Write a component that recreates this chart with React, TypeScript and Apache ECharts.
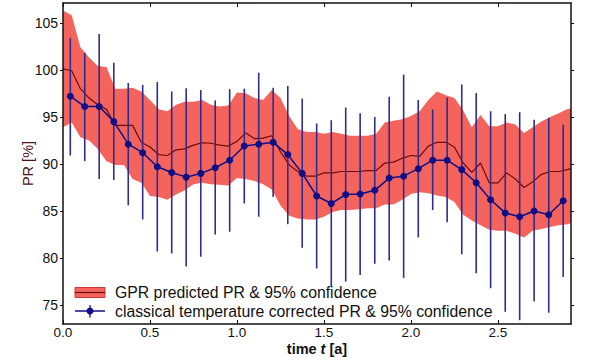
import React, { useEffect, useRef } from "react";
import * as echarts from "echarts";

// ---- data ----
// classical temperature corrected PR (monthly points)
const prTime = [
  0.042, 0.125, 0.208, 0.292, 0.375, 0.458, 0.542, 0.625, 0.708, 0.792, 0.875, 0.958,
  1.042, 1.125, 1.208, 1.292, 1.375, 1.458, 1.542, 1.625, 1.708, 1.792, 1.875, 1.958,
  2.042, 2.125, 2.208, 2.292, 2.375, 2.458, 2.542, 2.625, 2.708, 2.792, 2.875,
];
const prValue = [
  97.2, 96.1, 96.1, 94.5, 92.1, 91.2, 89.7, 89.1, 88.6, 89.0, 89.6, 90.4,
  91.9, 92.1, 92.3, 91.0, 89.0, 86.6, 85.8, 86.75, 86.8, 87.2, 88.5, 88.7,
  89.5, 90.4, 90.4, 89.4, 88.0, 86.2, 84.8, 84.4, 85.0, 84.6, 86.1,
];
const prHigh = [
  103.4, 101.8, 103.8, 100.75, 98.6, 98.4, 98.7, 97.7, 98.05, 97.85, 96.75, 97.95,
  98.0, 99.7, 98.1, 98.3, 96.95, 94.3, 94.65, 96.0, 95.4, 95.0, 97.15, 99.5,
  96.8, 95.8, 97.05, 98.45, 97.55, 95.6, 95.3, 95.5, 94.7, 94.9, 94.2,
];
const prLow = [
  90.9, 90.3, 88.4, 88.3, 85.6, 84.1, 80.7, 80.5, 79.1, 80.15, 82.5, 82.8,
  85.8, 84.4, 86.5, 83.6, 81.1, 78.9, 77.0, 77.5, 78.2, 79.4, 79.75, 77.9,
  82.2, 85.1, 83.8, 80.4, 78.4, 76.8, 74.3, 73.4, 75.4, 74.2, 78.0,
];

// GPR prediction: mean and 95% band
const gprTime = [
  0.0, 0.05, 0.1, 0.15, 0.2, 0.25, 0.3, 0.35, 0.4, 0.45, 0.5, 0.55, 0.6, 0.65, 0.7, 0.75,
  0.8, 0.85, 0.9, 0.95, 1.0, 1.05, 1.1, 1.15, 1.2, 1.25, 1.3, 1.35, 1.4, 1.45, 1.5, 1.55,
  1.6, 1.65, 1.7, 1.75, 1.8, 1.85, 1.9, 1.95, 2.0, 2.05, 2.1, 2.15, 2.2, 2.25, 2.3, 2.35,
  2.4, 2.45, 2.5, 2.55, 2.6, 2.65, 2.7, 2.75, 2.8, 2.85, 2.9, 2.92,
];
const gprUpper = [
  106.3, 105.8, 102.4, 101.3, 100.4, 100.3, 98.0, 98.0, 98.1, 97.7, 96.8, 95.8, 95.6, 96.3, 96.6, 96.6,
  96.8, 96.3, 96.1, 96.2, 97.6, 97.5, 97.0, 96.8, 97.85, 97.0, 95.1, 93.7, 93.4, 93.4, 93.2, 93.4,
  93.2, 93.0, 93.0, 93.0, 93.2, 94.4, 94.6, 94.75, 95.1, 95.6, 96.8, 97.7, 97.3, 97.0, 95.7, 93.9,
  95.2, 94.0, 94.0, 94.4, 94.2, 93.3, 93.9, 94.5, 95.0, 95.4, 95.85, 95.9,
];
const gprLower = [
  93.9, 94.4, 92.85, 92.5, 91.6, 90.3, 89.9, 89.9, 88.4, 88.0, 86.6, 86.5, 86.2, 86.75, 87.2, 87.85,
  88.0, 87.85, 87.8, 87.7, 88.5, 88.4, 88.2, 87.85, 87.3, 85.6, 84.5, 84.2, 84.1, 84.1, 84.4, 84.9,
  85.1, 85.1, 85.2, 85.3, 85.3, 85.7, 85.7, 86.2, 86.8, 87.0, 86.9, 86.65, 86.5, 85.95, 84.6, 84.0,
  83.5, 83.0, 82.9, 82.9, 82.6, 82.2, 82.9, 83.1, 83.3, 83.5, 83.6, 83.7,
];
const gprMean = [
  100.1, 99.9, 98.0, 97.0, 96.3, 95.8, 94.1, 94.1, 94.1, 92.3, 91.8, 91.0, 90.9, 91.5, 91.6, 92.0,
  92.25, 92.2, 92.0, 91.9, 92.4, 93.3, 92.7, 92.75, 93.0, 91.3, 89.9, 89.2, 88.7, 88.7, 89.05, 89.05,
  89.2, 89.2, 89.2, 89.3, 89.3, 90.1, 90.2, 90.6, 90.9, 90.8, 91.9, 92.3, 92.3, 91.8, 90.1, 89.1,
  90.1, 88.0, 88.0, 89.05, 88.4, 87.5, 88.1, 88.9, 89.2, 89.2, 89.4, 89.5,
];

const xTicks = [0, 0.5, 1.0, 1.5, 2.0, 2.5];
const yTicks = [75, 80, 85, 90, 95, 100, 105];

const legendBand = "GPR predicted PR & 95% confidence";
const legendPR = "classical temperature corrected PR & 95% confidence";

const FONT = "'Liberation Sans', Arial, Helvetica, sans-serif";
const BAND = "#f5635d";
const MEAN = "#6e0b0b";
const NAVY = "#0f0f88";
const BAR = "#2d2d90";

export default function App() {
  const ref = useRef<HTMLDivElement>(null);

  useEffect(() => {
    if (!ref.current) return;
    const chart = echarts.init(ref.current, undefined, { renderer: "svg" });

    const bandData = gprTime.map((t, i) => [t, gprLower[i], gprUpper[i]]);
    const meanData = gprTime.map((t, i) => [t, gprMean[i]]);
    const prData = prTime.map((t, i) => [t, prValue[i]]);
    const barData = prTime.map((t, i) => [t, prLow[i], prHigh[i]]);

    const axisLine = { show: true, onZero: false, lineStyle: { color: "#111", width: 1.5 } };

    const option: any = {
      animation: false,
      backgroundColor: "#fff",
      grid: { left: 63, right: 29, top: 3, bottom: 31, containLabel: false },
      xAxis: [
        {
          type: "value",
          position: "bottom",
          min: 0,
          max: 2.92,
          z: 10,
          axisLine,
          splitLine: { show: false },
          axisTick: { show: true, inside: true, length: 4, customValues: xTicks, lineStyle: { color: "#111" } },
          axisLabel: {
            customValues: xTicks,
            formatter: (v: number) => v.toFixed(1),
            fontSize: 13.5,
            lineHeight: 10,
            fontFamily: FONT,
            color: "#111",
            margin: 3,
          },
          name: "{a|time }{b|t}{a| [a]}",
          nameLocation: "middle",
          nameGap: 18,
          nameMoveOverlap: false,
          nameTextStyle: {
            rich: {
              a: { fontSize: 14.5, lineHeight: 13, fontFamily: FONT, fontWeight: "bold", color: "#111" },
              b: { fontSize: 14.5, lineHeight: 13, fontFamily: FONT, fontWeight: "bold", fontStyle: "italic", color: "#111" },
            },
          },
        },
        {
          type: "value",
          position: "top",
          min: 0,
          max: 2.92,
          z: 10,
          axisLine,
          splitLine: { show: false },
          axisTick: { show: true, inside: true, length: 4, customValues: xTicks, lineStyle: { color: "#111" } },
          axisLabel: { show: false },
        },
      ],
      yAxis: [
        {
          type: "value",
          position: "left",
          min: 73,
          max: 107.1,
          z: 10,
          axisLine,
          splitLine: { show: false },
          axisTick: { show: true, inside: false, length: 3, customValues: yTicks, lineStyle: { color: "#111" } },
          axisLabel: {
            customValues: yTicks,
            fontSize: 14,
            fontFamily: FONT,
            color: "#111",
            margin: 5,
          },
          name: "PR [%]",
          nameLocation: "middle",
          nameGap: 28,
          nameMoveOverlap: false,
          nameRotate: 90,
          nameTextStyle: { fontSize: 14.5, fontFamily: FONT, color: "#4a1414" },
        },
        {
          type: "value",
          position: "right",
          min: 73,
          max: 107.1,
          z: 10,
          axisLine,
          splitLine: { show: false },
          axisTick: { show: true, inside: false, length: 3, customValues: yTicks, lineStyle: { color: "#111" } },
          axisLabel: { show: false },
        },
      ],
      series: [
        {
          type: "custom",
          name: legendBand,
          data: bandData,
          encode: { x: 0, y: [1, 2] },
          z: 1,
          renderItem: (params: any, api: any) => {
            if (params.dataIndex !== 0) return null;
            const upper = bandData.map((d) => api.coord([d[0], d[2]]));
            const lower = bandData.map((d) => api.coord([d[0], d[1]])).reverse();
            return {
              type: "polygon",
              shape: { points: upper.concat(lower) },
              style: { fill: BAND, stroke: "none" },
            };
          },
        },
        {
          type: "line",
          name: "GPR mean",
          data: meanData,
          showSymbol: false,
          z: 3,
          lineStyle: { color: MEAN, width: 1.2 },
          itemStyle: { color: MEAN },
        },
        {
          type: "custom",
          name: "error bars",
          data: barData,
          encode: { x: 0, y: [1, 2] },
          z: 4,
          renderItem: (params: any, api: any) => {
            const t = api.value(0);
            const p1 = api.coord([t, api.value(1)]);
            const p2 = api.coord([t, api.value(2)]);
            return {
              type: "line",
              shape: { x1: p1[0], y1: p1[1], x2: p2[0], y2: p2[1] },
              style: { stroke: BAR, lineWidth: 1.6 },
            };
          },
        },
        {
          type: "line",
          name: legendPR,
          data: prData,
          symbol: "circle",
          symbolSize: 7,
          z: 5,
          lineStyle: { color: NAVY, width: 1.5 },
          itemStyle: { color: NAVY },
        },
      ],
      graphic: [
        {
          type: "rect",
          shape: { x: 75, y: 287.5, width: 30, height: 10 },
          style: { fill: BAND, stroke: "#c83a36", lineWidth: 1 },
          z: 20,
        },
        {
          type: "line",
          shape: { x1: 75, y1: 292.5, x2: 105, y2: 292.5 },
          style: { stroke: MEAN, lineWidth: 1.2 },
          z: 21,
        },
        {
          type: "text",
          x: 115,
          y: 292.5,
          style: { text: legendBand, fill: "#111", font: `15.8px ${FONT}`, verticalAlign: "middle", align: "left" },
          z: 20,
        },
        {
          type: "line",
          shape: { x1: 75, y1: 311, x2: 105, y2: 311 },
          style: { stroke: NAVY, lineWidth: 1.5 },
          z: 20,
        },
        {
          type: "line",
          shape: { x1: 90, y1: 305, x2: 90, y2: 317.5 },
          style: { stroke: BAR, lineWidth: 1.5 },
          z: 20,
        },
        {
          type: "circle",
          shape: { cx: 90, cy: 311, r: 3.5 },
          style: { fill: NAVY },
          z: 21,
        },
        {
          type: "text",
          x: 115,
          y: 311,
          style: { text: legendPR, fill: "#111", font: `15.8px ${FONT}`, verticalAlign: "middle", align: "left" },
          z: 20,
        },
      ],
    };

    chart.setOption(option);
    return () => chart.dispose();
  }, []);

  return (
    <div
      ref={ref}
      style={{ position: "absolute", left: 0, top: 0, width: 600, height: 361, background: "#fff" }}
    />
  );
}
